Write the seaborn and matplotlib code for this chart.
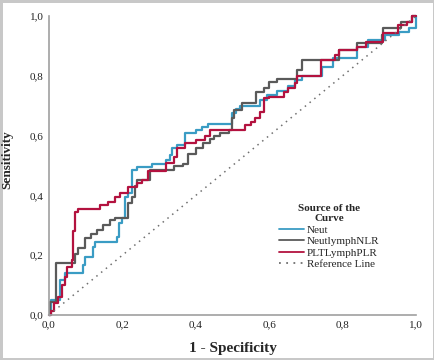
import numpy as np
import pandas as pd
import matplotlib
matplotlib.use("Agg")
import matplotlib.pyplot as plt
import seaborn as sns

# ROC corner points (1 - specificity, sensitivity)
neut_fpr = [0, 0.005, 0.03, 0.044, 0.093, 0.098, 0.12, 0.125, 0.185, 0.19, 0.20, 0.207, 0.215,
            0.226, 0.24, 0.28, 0.32, 0.33, 0.335, 0.35, 0.37, 0.40, 0.417, 0.433, 0.50, 0.51,
            0.52, 0.575, 0.594, 0.62, 0.65, 0.67, 0.69, 0.745, 0.775, 0.84, 0.87, 0.915, 0.955,
            0.98, 1.0]
neut_tpr = [0, 0.05, 0.117, 0.14, 0.167, 0.194, 0.227, 0.245, 0.26, 0.307, 0.325, 0.395, 0.408,
            0.485, 0.495, 0.505, 0.518, 0.535, 0.56, 0.57, 0.61, 0.62, 0.63, 0.64, 0.675, 0.69,
            0.70, 0.72, 0.735, 0.75, 0.765, 0.785, 0.80, 0.83, 0.86, 0.895, 0.92, 0.935, 0.945,
            0.96, 1.0]

nlr_fpr = [0, 0.002, 0.02, 0.07, 0.08, 0.098, 0.115, 0.13, 0.148, 0.166, 0.18, 0.215, 0.225,
           0.235, 0.24, 0.275, 0.34, 0.365, 0.38, 0.40, 0.42, 0.44, 0.45, 0.465, 0.49, 0.50,
           0.505, 0.525, 0.565, 0.585, 0.60, 0.62, 0.675, 0.69, 0.79, 0.84, 0.907, 0.91, 0.96,
           0.99, 1.0]
nlr_tpr = [0, 0.045, 0.175, 0.205, 0.225, 0.258, 0.27, 0.285, 0.30, 0.318, 0.325, 0.375, 0.395,
           0.43, 0.45, 0.485, 0.50, 0.505, 0.54, 0.56, 0.575, 0.59, 0.60, 0.61, 0.62, 0.66,
           0.685, 0.71, 0.745, 0.76, 0.78, 0.79, 0.82, 0.853, 0.885, 0.91, 0.935, 0.96, 0.98,
           1.0, 1.0]

plr_fpr = [0, 0.005, 0.015, 0.025, 0.035, 0.045, 0.05, 0.062, 0.065, 0.07, 0.08, 0.14, 0.16,
           0.18, 0.193, 0.215, 0.24, 0.253, 0.27, 0.32, 0.34, 0.35, 0.37, 0.40, 0.425, 0.44,
           0.535, 0.55, 0.56, 0.575, 0.585, 0.60, 0.64, 0.65, 0.67, 0.675, 0.74, 0.78, 0.79,
           0.84, 0.865, 0.91, 0.95, 0.975, 0.99, 1.0]
plr_tpr = [0, 0.015, 0.04, 0.06, 0.10, 0.128, 0.16, 0.185, 0.28, 0.345, 0.355, 0.368, 0.378,
           0.395, 0.408, 0.428, 0.44, 0.45, 0.48, 0.51, 0.53, 0.56, 0.575, 0.585, 0.60, 0.62,
           0.635, 0.645, 0.66, 0.68, 0.725, 0.73, 0.745, 0.76, 0.775, 0.80, 0.853, 0.87, 0.885,
           0.895, 0.913, 0.943, 0.97, 0.98, 1.0, 1.0]

curve_names = ["Neut", "NeutlymphNLR", "PLTLymphPLR"]
curve_colors = ["#3a9cc4", "#5a5a5a", "#b3123f"]
tick_values = [0.0, 0.2, 0.4, 0.6, 0.8, 1.0]
tick_labels = ["0,0", "0,2", "0,4", "0,6", "0,8", "1,0"]

df = pd.concat([
    pd.DataFrame({"fpr": neut_fpr, "tpr": neut_tpr, "curve": curve_names[0]}),
    pd.DataFrame({"fpr": nlr_fpr, "tpr": nlr_tpr, "curve": curve_names[1]}),
    pd.DataFrame({"fpr": plr_fpr, "tpr": plr_tpr, "curve": curve_names[2]}),
], ignore_index=True)

sns.set_style("white")
plt.rcParams["font.family"] = ["Liberation Serif", "DejaVu Serif"]

fig = plt.figure(figsize=(4.35, 3.6), dpi=100)
ax = fig.add_axes([0.1126, 0.125, 0.8437, 0.8305])

sns.lineplot(data=df, x="fpr", y="tpr", hue="curve", hue_order=curve_names,
             palette=curve_colors, estimator=None, sort=False, drawstyle="steps-post",
             linewidth=1.6, legend=False, ax=ax, clip_on=False)
ax.plot([0, 1], [0, 1], linestyle=(0, (1, 3)), color="#707070", linewidth=1.1,
        label="Reference Line", clip_on=False)

ax.set_xlim(0, 1)
ax.set_ylim(0, 1)
ax.set_xticks(tick_values)
ax.set_xticklabels(tick_labels)
ax.set_yticks(tick_values)
ax.set_yticklabels(tick_labels)
ax.tick_params(length=0, labelsize=8, pad=4, colors="#222222")
for side in ["top", "right"]:
    ax.spines[side].set_visible(False)
for side in ["left", "bottom"]:
    ax.spines[side].set_color("#a0a0a0")
    ax.spines[side].set_linewidth(1.2)

ax.set_xlabel("1 - Specificity", fontsize=11, fontweight="bold", labelpad=9)
ax.set_ylabel("Sensitivity", fontsize=9.5, fontweight="bold")
ax.yaxis.set_label_coords(-0.098, 0.52)

handles = ax.get_lines()
labels = curve_names + ["Reference Line"]
leg = ax.legend(handles, labels, title="Source of the\nCurve", loc="upper left",
                bbox_to_anchor=(0.6, 0.405), frameon=False, fontsize=8,
                handlelength=2.2, handletextpad=0.3, labelspacing=0.15)
leg.get_title().set_fontweight("bold")
leg.get_title().set_fontsize(8)
leg.get_title().set_multialignment("center")
for line in leg.get_lines():
    line.set_linewidth(1.3)

fig.patch.set_edgecolor("#c8c8c8")
fig.patch.set_linewidth(2.5)

plt.savefig("out.png", dpi=100, edgecolor=fig.get_edgecolor())
plt.close()
